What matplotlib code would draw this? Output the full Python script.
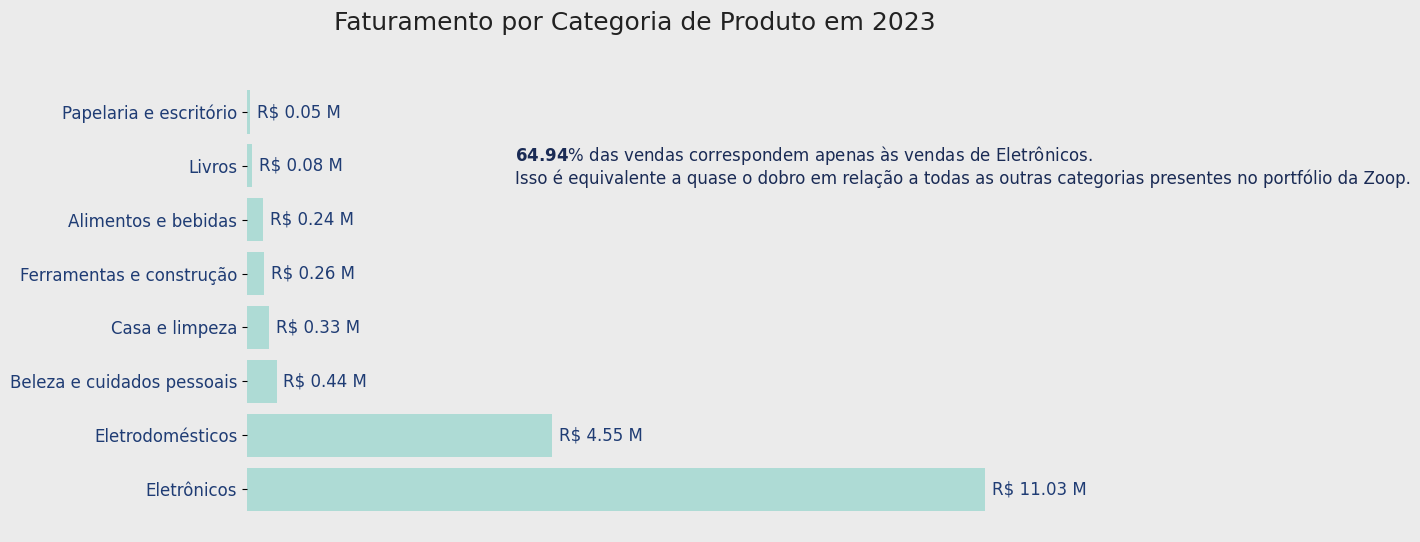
import matplotlib
matplotlib.use("Agg")
import matplotlib.pyplot as plt

categorias = ["Eletrônicos", "Eletrodomésticos", "Beleza e cuidados pessoais",
              "Casa e limpeza", "Ferramentas e construção", "Alimentos e bebidas",
              "Livros", "Papelaria e escritório"]
faturamento_m = [11.03, 4.55, 0.44, 0.33, 0.26, 0.24, 0.08, 0.05]
pct_eletronicos = 64.94

BG = "#EBEBEB"
BAR = "#AEDBD5"
AZUL = "#1F3C74"
AZUL_ESC = "#1A2B55"

fig = plt.figure(figsize=(14.2, 5.42), dpi=100, facecolor=BG)
ax = fig.add_axes([0.174, 0.048, 0.546, 0.795])
ax.set_facecolor(BG)

y = list(range(len(categorias)))
bars = ax.barh(y, faturamento_m, height=0.8, color=BAR)
ax.set_ylim(-0.5, len(categorias) - 0.5)
ax.set_xlim(0, max(faturamento_m) * 1.05)

ax.set_yticks(y)
ax.set_yticklabels(categorias, fontsize=12, color=AZUL)
ax.set_xticks([])
for s in ax.spines.values():
    s.set_visible(False)

ax.bar_label(bars, labels=[f"R$ {v:.2f} M" for v in faturamento_m],
             padding=5, fontsize=12, color=AZUL)

ax.set_title("Faturamento por Categoria de Produto em 2023", fontsize=18,
             color="#222222", pad=40)

texto = (r"$\bf{" + f"{pct_eletronicos:.2f}" + r"}$"
         + "% das vendas correspondem apenas às vendas de Eletrônicos.\n"
         "Isso é equivalente a quase o dobro em relação a todas as outras "
         "categorias presentes no portfólio da Zoop.")
ax.text(4.0, 6.0, texto, fontsize=12, color=AZUL_ESC, va="center", ha="left",
        linespacing=1.15)

fig.savefig("out.png", dpi=100, facecolor=BG)
